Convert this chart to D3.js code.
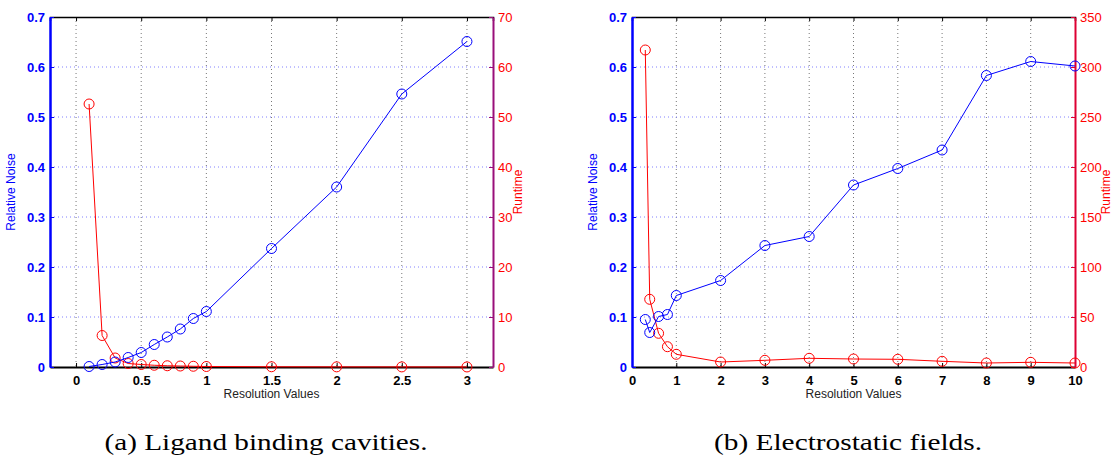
<!DOCTYPE html>
<html>
<head>
<meta charset="utf-8">
<script src="https://cdn.jsdelivr.net/npm/d3@7"></script>
<style>
  body { margin: 0; background: #fff; }
  svg { display: block; }
  .tick text { font-family: "Liberation Sans", Arial, sans-serif; }
  .caption { font-family: "Liberation Serif", "Times New Roman", serif; }
</style>
</head>
<body>
<svg width="1118" height="460"></svg>
<script>
// panel (a) ligand binding cavities
const resA = [0.1, 0.2, 0.3, 0.4, 0.5, 0.6, 0.7, 0.8, 0.9, 1.0, 1.5, 2, 2.5, 3];
const noiseA = [0.001, 0.005, 0.010, 0.019, 0.029, 0.045, 0.060, 0.076, 0.097, 0.111, 0.237, 0.360, 0.546, 0.651];
const runtimeA = [52.6, 6.3, 1.8, 0.7, 0.5, 0.35, 0.25, 0.2, 0.15, 0.1, 0.05, 0.03, 0.02, 0.01];
const xTicksA = [0, 0.5, 1, 1.5, 2, 2.5, 3];
const yTicksRightA = [0, 10, 20, 30, 40, 50, 60, 70];

// panel (b) electrostatic fields
const resB = [0.3, 0.4, 0.6, 0.8, 1, 2, 3, 4, 5, 6, 7, 8, 9, 10];
const noiseB = [0.095, 0.069, 0.101, 0.105, 0.143, 0.173, 0.243, 0.261, 0.364, 0.397, 0.434, 0.583, 0.611, 0.602];
const runtimeB = [317, 67.7, 33.7, 20.3, 12.7, 5, 6.7, 8.7, 8, 7.7, 5.7, 4, 4.7, 4];
const xTicksB = [0, 1, 2, 3, 4, 5, 6, 7, 8, 9, 10];
const yTicksRightB = [0, 50, 100, 150, 200, 250, 300, 350];

const yTicksLeft = [0, 0.1, 0.2, 0.3, 0.4, 0.5, 0.6, 0.7];
const captions = ['(a) Ligand binding cavities.', '(b) Electrostatic fields.'];

var svg = d3.select('svg');

var blue = '#0000ff', red = '#ff0000';
var plotTop = 17, plotBottom = 367;

drawPanel({ left: 50, right: 493, xDomain: [-0.2, 3.2], xTicks: xTicksA, rMax: 70, rTicks: yTicksRightA,
  res: resA, noise: noiseA, runtime: runtimeA, rightAxisColor: '#990f7a', rLabelOff: 29,
  caption: captions[0], capX: 266, capW: 323 });
drawPanel({ left: 632, right: 1075, xDomain: [0, 10], xTicks: xTicksB, rMax: 350, rTicks: yTicksRightB,
  res: resB, noise: noiseB, runtime: runtimeB, rightAxisColor: '#dd0033', rLabelOff: 35,
  caption: captions[1], capX: 848, capW: 268 });

function fmt(d) { return String(+d.toFixed(2)); }

function drawPanel(p) {
  var g = svg.append('g');
  var x = d3.scaleLinear().domain(p.xDomain).range([p.left, p.right]);
  var yL = d3.scaleLinear().domain([0, 0.7]).range([plotBottom, plotTop]);
  var yR = d3.scaleLinear().domain([0, p.rMax]).range([plotBottom, plotTop]);

  // grid
  g.append('g').selectAll('line').data(p.xTicks.filter(d => d > p.xDomain[0] && d < p.xDomain[1]))
    .enter().append('line')
    .attr('x1', d => x(d)).attr('x2', d => x(d)).attr('y1', plotTop).attr('y2', plotBottom)
    .attr('stroke', '#777').attr('stroke-width', 1).attr('stroke-dasharray', '1,3');
  g.append('g').selectAll('line').data(yTicksLeft.slice(1, -1))
    .enter().append('line')
    .attr('x1', p.left).attr('x2', p.right).attr('y1', d => yL(d)).attr('y2', d => yL(d))
    .attr('stroke', '#8080ff').attr('stroke-width', 1).attr('stroke-dasharray', '1,3');

  // top border with inward ticks
  g.append('g').attr('transform', `translate(0,${plotTop})`)
    .call(d3.axisBottom(x).tickValues(p.xTicks).tickSize(4).tickFormat(''))
    .call(a => a.select('.domain').attr('stroke', '#000').attr('stroke-width', 1.5))
    .call(a => a.selectAll('.tick line').attr('stroke', '#000'));

  // bottom axis
  g.append('g').attr('transform', `translate(0,${plotBottom})`)
    .call(d3.axisBottom(x).tickValues(p.xTicks).tickSizeInner(-4).tickSizeOuter(0).tickPadding(9).tickFormat(fmt))
    .call(a => a.select('.domain').attr('stroke', '#000').attr('stroke-width', 2))
    .call(a => a.selectAll('.tick line').attr('stroke', '#000'))
    .call(a => a.selectAll('.tick text').attr('fill', '#000').attr('font-size', 13).attr('font-weight', 'bold'));

  // left axis
  g.append('g').attr('transform', `translate(${p.left},0)`)
    .call(d3.axisLeft(yL).tickValues(yTicksLeft).tickSizeInner(-4).tickSizeOuter(0).tickPadding(5).tickFormat(fmt))
    .call(a => a.select('.domain').attr('stroke', blue).attr('stroke-width', 2.5))
    .call(a => a.selectAll('.tick line').attr('stroke', blue))
    .call(a => a.selectAll('.tick text').attr('fill', blue).attr('font-size', 13).attr('font-weight', 'bold'));

  // right axis
  g.append('g').attr('transform', `translate(${p.right},0)`)
    .call(d3.axisRight(yR).tickValues(p.rTicks).tickSizeInner(-4).tickSizeOuter(0).tickPadding(5))
    .call(a => a.select('.domain').attr('stroke', p.rightAxisColor).attr('stroke-width', 2))
    .call(a => a.selectAll('.tick line').attr('stroke', p.rightAxisColor))
    .call(a => a.selectAll('.tick text').attr('fill', red).attr('font-size', 13));

  // series
  var lineL = d3.line().x((d, i) => x(p.res[i])).y(d => yL(d));
  var lineR = d3.line().x((d, i) => x(p.res[i])).y(d => yR(d));

  g.append('path').datum(p.runtime).attr('d', lineR)
    .attr('fill', 'none').attr('stroke', red).attr('stroke-width', 1);
  g.append('g').selectAll('circle').data(p.runtime).enter().append('circle')
    .attr('cx', (d, i) => x(p.res[i])).attr('cy', d => yR(d)).attr('r', 5)
    .attr('fill', 'none').attr('stroke', red).attr('stroke-width', 1);

  g.append('path').datum(p.noise).attr('d', lineL)
    .attr('fill', 'none').attr('stroke', blue).attr('stroke-width', 1);
  g.append('g').selectAll('circle').data(p.noise).enter().append('circle')
    .attr('cx', (d, i) => x(p.res[i])).attr('cy', d => yL(d)).attr('r', 5)
    .attr('fill', 'none').attr('stroke', blue).attr('stroke-width', 1);

  // axis titles
  var mid = (plotTop + plotBottom) / 2;
  g.append('text').text('Relative Noise')
    .attr('transform', `translate(${p.left - 35},${mid}) rotate(-90)`)
    .attr('text-anchor', 'middle').attr('fill', blue)
    .attr('font-family', 'Liberation Sans, Arial, sans-serif').attr('font-size', 12);
  g.append('text').text('Runtime')
    .attr('transform', `translate(${p.right + p.rLabelOff},${mid}) rotate(-90)`)
    .attr('text-anchor', 'middle').attr('fill', red)
    .attr('font-family', 'Liberation Sans, Arial, sans-serif').attr('font-size', 12);
  g.append('text').text('Resolution Values')
    .attr('x', (p.left + p.right) / 2).attr('y', 398)
    .attr('text-anchor', 'middle').attr('fill', '#222')
    .attr('font-family', 'Liberation Sans, Arial, sans-serif').attr('font-size', 12);

  // caption
  svg.append('text').attr('class', 'caption').text(p.caption)
    .attr('x', p.capX).attr('y', 450)
    .attr('text-anchor', 'middle').attr('fill', '#000')
    .attr('textLength', p.capW).attr('lengthAdjust', 'spacingAndGlyphs')
    .attr('font-size', 23);
}
</script>
</body>
</html>
